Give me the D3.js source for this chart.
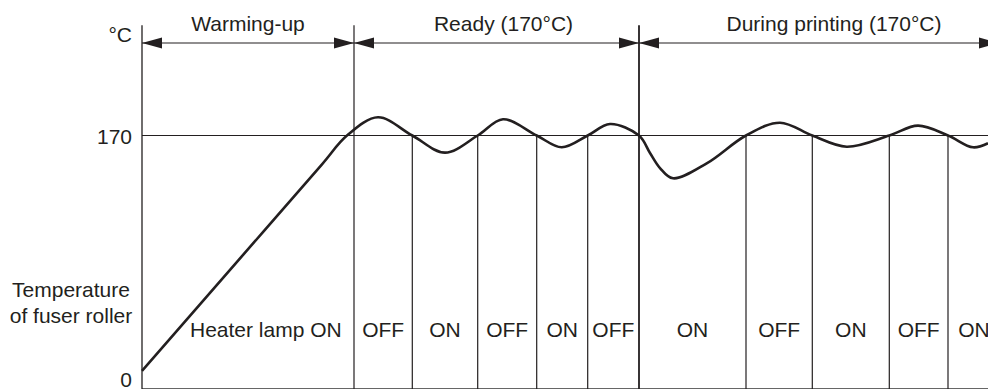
<!DOCTYPE html>
<html>
<head>
<meta charset="utf-8">
<script src="https://cdn.jsdelivr.net/npm/d3@7"></script>
<style>
  body { margin: 0; background: #fff; }
  svg text { font-family: "Liberation Sans", Arial, sans-serif; font-size: 21px; fill: #231f20; }
</style>
</head>
<body>
<div id="chart"></div>
<script>
// time is in arbitrary units along the x axis, temperature in degC
var curveTime = [0, 100, 180, 205, 236, 270.3, 303, 335.7, 361, 394.7, 419.7, 445.7, 468, 497,
                 508, 518, 531, 564.7, 604, 638, 670.3, 704.7, 747.3, 776, 806, 831, 846];
var curveTemp = [12.1, 89.1, 150.7, 170, 182.2, 170, 158.5, 170, 180.9, 170, 162.1, 170, 177.7, 170,
                 158.3, 148.2, 141.3, 151.3, 170, 178.6, 170, 162.5, 170, 176.6, 170, 162.1, 164.8];

// heater lamp switching times and the state in each interval
var switchTimes = [0, 212, 270.3, 335.7, 394.7, 445.7, 497, 604, 670.3, 747.3, 806, 858];
var lampLabels = ["Heater lamp ON", "OFF", "ON", "OFF", "ON", "OFF", "ON", "OFF", "ON", "OFF", "ON"];

// phases
var phaseStart = [0, 212, 497];
var phaseEnd = [212, 497, 857];
var phaseLabels = ["Warming-up", "Ready (170\u00b0C)", "During printing (170\u00b0C)"];

var yTicks = [0, 170];
var yTickLabels = ["0", "170"];

var width = 988, height = 390;

var x = d3.scaleLinear().domain([0, 846]).range([142, 988]);
var y = d3.scaleLinear().domain([0, 170]).range([389, 135.5]);
var yTop = 244; // top of the temperature axis

var svg = d3.select("#chart").append("svg")
  .attr("width", width)
  .attr("height", height);

var ink = "#231f20";

// baseline and 170 line
svg.append("line")
  .attr("x1", x(0)).attr("x2", width)
  .attr("y1", y(0) - 0.5).attr("y2", y(0) - 0.5)
  .attr("stroke", "#666").attr("stroke-width", 1);

svg.append("line")
  .attr("x1", x(0)).attr("x2", width)
  .attr("y1", y(170)).attr("y2", y(170))
  .attr("stroke", ink).attr("stroke-width", 1.2);

// y axis line
svg.append("line")
  .attr("x1", x(0)).attr("x2", x(0))
  .attr("y1", y(yTop)).attr("y2", y(0))
  .attr("stroke", ink).attr("stroke-width", 1.3);

// switching lines (phase borders run to the top)
svg.selectAll(".switch")
  .data(switchTimes.slice(1, switchTimes.length - 1))
  .enter().append("line")
    .attr("class", "switch")
    .attr("x1", function(d) { return x(d); })
    .attr("x2", function(d) { return x(d); })
    .attr("y1", function(d) { return phaseStart.indexOf(d) >= 0 ? y(yTop) : y(170); })
    .attr("y2", y(0))
    .attr("stroke", ink)
    .attr("stroke-width", function(d) { return d === 497 ? 1.8 : 1.2; });

// y axis labels
var yAxis = svg.append("g")
  .attr("transform", "translate(" + x(0) + ",0)")
  .call(d3.axisLeft(y).tickValues(yTicks).tickSize(0).tickPadding(10)
    .tickFormat(function(d, i) { return yTickLabels[i]; }));
yAxis.select(".domain").remove();
yAxis.selectAll("text")
  .attr("fill", ink)
  .style("font-size", "21px")
  .style("font-family", "'Liberation Sans', Arial, sans-serif")
  .attr("dy", function(d) { return d === 0 ? "-0.1em" : "0.36em"; });

svg.append("text")
  .attr("x", 132).attr("y", 42)
  .attr("text-anchor", "end")
  .text("\u00b0C");

var ylab = svg.append("text")
  .attr("text-anchor", "middle");
ylab.append("tspan").attr("x", 71).attr("y", 297).text("Temperature");
ylab.append("tspan").attr("x", 71).attr("y", 323).text("of fuser roller");

// phase arrows
var arrowY = 43;
svg.append("line")
  .attr("x1", x(0)).attr("x2", x(857))
  .attr("y1", arrowY).attr("y2", arrowY)
  .attr("stroke", ink).attr("stroke-width", 1.2);

function arrowHead(tip, dir) {
  // dir = -1 points left, +1 points right
  var len = 20, half = 5.5;
  return "M" + tip + "," + arrowY +
    "L" + (tip - dir * len) + "," + (arrowY - half) +
    "L" + (tip - dir * len) + "," + (arrowY + half) + "Z";
}

phaseStart.forEach(function(s, i) {
  svg.append("path").attr("d", arrowHead(x(s), -1)).attr("fill", ink);
  svg.append("path").attr("d", arrowHead(x(phaseEnd[i]), 1)).attr("fill", ink);
});

var phaseNudge = [0, 7, 15];
svg.selectAll(".phase")
  .data(phaseLabels)
  .enter().append("text")
    .attr("class", "phase")
    .attr("x", function(d, i) { return (x(phaseStart[i]) + x(phaseEnd[i])) / 2 + phaseNudge[i]; })
    .attr("y", 30.5)
    .attr("text-anchor", "middle")
    .text(function(d) { return d; });

// heater lamp state labels
var labelY = 337;
svg.selectAll(".lamp")
  .data(lampLabels)
  .enter().append("text")
    .attr("class", "lamp")
    .attr("x", function(d, i) {
      var a = x(switchTimes[i]), b = x(switchTimes[i + 1]);
      if (i === 0) {
        // centre between the warming ramp and the first switch line
        var tAt = d3.scaleLinear().domain([curveTemp[0], curveTemp[2]]).range([curveTime[0], curveTime[2]]);
        a = x(tAt(y.invert(labelY - 7)));
      }
      return (a + b) / 2;
    })
    .attr("y", labelY)
    .attr("text-anchor", "middle")
    .text(function(d) { return d; });

// temperature curve
var pts = curveTime.map(function(t, i) { return [t, curveTemp[i]]; });
var line = d3.line()
  .x(function(d) { return x(d[0]); })
  .y(function(d) { return y(d[1]); })
  .curve(d3.curveCatmullRom.alpha(0.5));

svg.append("path")
  .datum(pts)
  .attr("d", line)
  .attr("fill", "none")
  .attr("stroke", ink)
  .attr("stroke-width", 2.6)
  .attr("stroke-linejoin", "round");
</script>
</body>
</html>
